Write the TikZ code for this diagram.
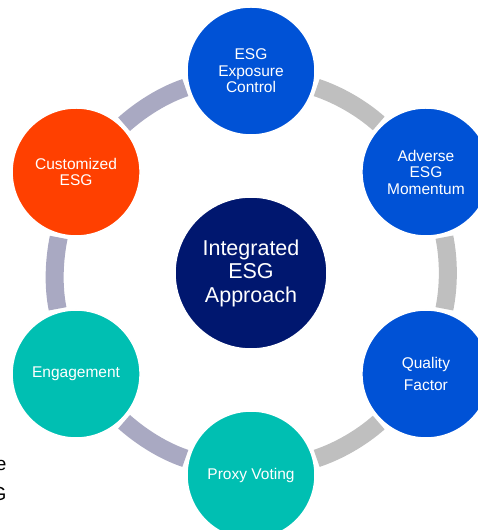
\documentclass[tikz,border=0pt]{standalone}
\usepackage{fontspec}
\setmainfont{Liberation Sans}
\usetikzlibrary{positioning}

\definecolor{esgblue}{HTML}{0052D6}
\definecolor{esgorange}{HTML}{FF4000}
\definecolor{esgteal}{HTML}{00BFB2}
\definecolor{esgnavy}{HTML}{00176F}
\definecolor{ringgrey}{HTML}{BFBFBF}
\definecolor{ringlav}{HTML}{A9A9C2}

\begin{document}
\begin{tikzpicture}[
  x=1pt, y=1pt,
  bub/.style={circle, draw=white, line width=1.5pt, minimum size=128pt,
              inner sep=0pt, align=center, text=white,
              font=\fontsize{15.5}{16.5}\selectfont},
  hubnode/.style={bub, fill=esgnavy, minimum size=152pt,
              font=\fontsize{21.5}{23.5}\selectfont},
  ringR/.style={draw=ringgrey, line width=18pt, shorten <=3pt,
              shorten >=3pt, looseness=0.86},
  ringL/.style={ringR, draw=ringlav}
]
\useasboundingbox (0,0) rectangle (477,530);

\node[hubnode] (hub) at (251,257) {Integrated\\ESG\\Approach};
\node[bub, fill=esgblue] (expo) at ([shift={(90:202)}]hub.center) {ESG\\Exposure\\Control};
\node[bub, fill=esgblue] (adverse) at ([shift={(30:202)}]hub.center) {Adverse\\ESG\\Momentum};
\node[bub, fill=esgblue, font=\fontsize{15.5}{22}\selectfont] (quality) at ([shift={(-30:202)}]hub.center) {Quality\\Factor};
\node[bub, fill=esgteal] (proxy) at ([shift={(-90:202)}]hub.center) {Proxy Voting};
\node[bub, fill=esgteal] (engage) at ([shift={(-150:202)}]hub.center) {Engagement};
\node[bub, fill=esgorange] (custom) at ([shift={(150:202)}]hub.center) {Customized\\ESG};

% ring pieces, clockwise from the top
\foreach \a/\b/\ang/\col [evaluate=\ang as \sa using \ang-104.52,
    evaluate=\ang as \so using \ang-108.42,
    evaluate=\ang as \si using \ang+48.42,
    evaluate=\ang as \sb using \ang+44.52] in
  {expo/adverse/90/ringR, adverse/quality/30/ringR, quality/proxy/-30/ringR,
   proxy/engage/-90/ringL, engage/custom/-150/ringL, custom/expo/150/ringL}
  \draw[\col] (\a.\sa) to[out=\so, in=\si] (\b.\sb);

\node[anchor=east, align=right, font=\fontsize{19}{30}\selectfont] (cut) at (10,50) {e\\G};
\end{tikzpicture}
\end{document}
